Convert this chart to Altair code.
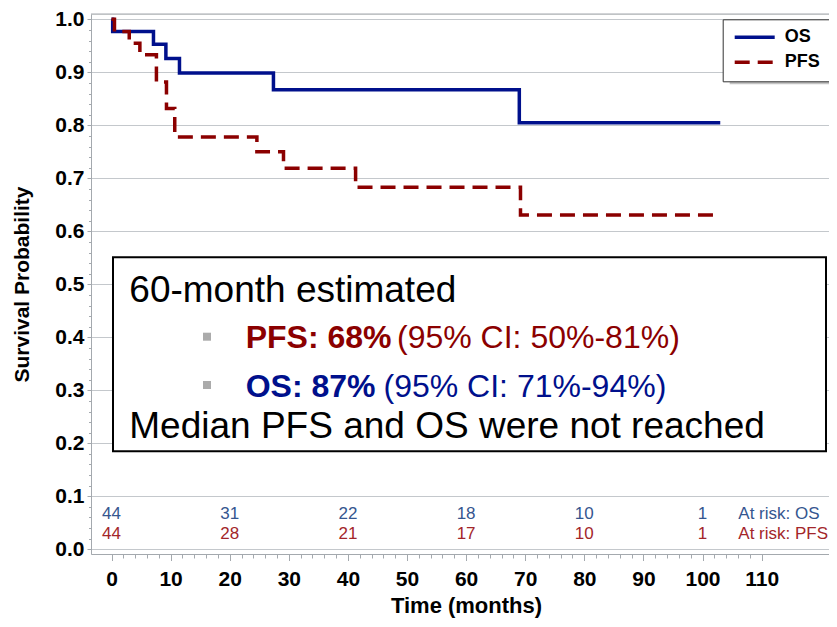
import altair as alt
import pandas as pd

# ---------------- data ----------------
os_time = [0, 0.2, 7.1, 9.2, 11.5, 27.4, 69.0, 103.0]
os_surv = [1.0, 0.977, 0.953, 0.926, 0.899, 0.867, 0.805, 0.805]
pfs_time = [0, 0.5, 3.0, 4.8, 7.6, 9.3, 10.7, 24.6, 29.1, 41.3, 69.2, 103.0]
pfs_surv = [1.0, 0.977, 0.955, 0.933, 0.882, 0.832, 0.778, 0.750, 0.719, 0.683, 0.631, 0.631]

groups = ["OS", "PFS"]
risk_times = [0, 20, 40, 60, 80, 100]
risk_os = [44, 31, 22, 18, 10, 1]
risk_pfs = [44, 28, 21, 17, 10, 1]
risk_labels = ["At risk: OS", "At risk: PFS"]

x_ticks = list(range(0, 111, 2))
y_ticks = [round(i * 0.02, 2) for i in range(0, 51)]

box_title = "60-month estimated"
pfs_bold = "PFS: 68%"
pfs_ci = "(95% CI: 50%-81%)"
os_bold = "OS: 87%"
os_ci = "(95% CI: 71%-94%)"
box_footer = "Median PFS and OS were not reached"

# ---------------- styles ----------------
FONT = "Liberation Sans"
NAVY = "#00108c"
DRED = "#8b0000"
RISK_BLUE = "#35568f"
RISK_RED = "#a3262a"
GRID = "#c4c8cc"
AXIS = "#a4a9ae"

W, H = 738, 540
MAJOR_X = "datum.value % 10 === 0"
MAJOR_Y = "abs(datum.value * 10 - round(datum.value * 10)) < 0.000001"

curve = pd.DataFrame({
    "time": os_time + pfs_time,
    "surv": os_surv + pfs_surv,
    "group": [groups[0]] * len(os_time) + [groups[1]] * len(pfs_time),
})
risk = pd.DataFrame({"time": risk_times, "os": risk_os, "pfs": risk_pfs})
one = pd.DataFrame({"k": [0]})

x_scale = alt.Scale(domain=[-3.47, 121.4], nice=False, zero=False)
y_scale = alt.Scale(domain=[-0.0089, 1.0101], nice=False, zero=False)

x_axis = alt.Axis(
    values=x_ticks,
    labelExpr=f"{MAJOR_X} ? datum.label : ''",
    grid=False,
    tickSize={"condition": {"test": MAJOR_X, "value": 6.5}, "value": 4},
    tickColor=AXIS, domainColor=AXIS,
    labelFont=FONT, labelFontSize=21, labelFontWeight="bold", labelColor="black",
    labelPadding=8, labelOverlap=False, labelFlush=False, labelBound=False,
    title="Time (months)", titleFont=FONT, titleFontSize=22, titleFontWeight="bold",
    titleColor="black", titleX=375, titleY=58, titleAlign="center", titleBaseline="alphabetic",
)
y_axis = alt.Axis(
    values=y_ticks,
    format=".1f",
    labelExpr=f"{MAJOR_Y} ? datum.label : ''",
    grid=True, gridColor=GRID, gridWidth=1,
    gridOpacity={"condition": {"test": MAJOR_Y, "value": 1}, "value": 0},
    tickSize={"condition": {"test": MAJOR_Y, "value": 4}, "value": 2.5},
    tickColor=AXIS, domainColor=AXIS,
    labelFont=FONT, labelFontSize=21, labelFontWeight="bold", labelColor="black",
    labelPadding=3, labelOverlap=False, labelFlush=False, labelBound=False,
    title="Survival Probability", titleFont=FONT, titleFontSize=21, titleFontWeight="bold",
    titleColor="black", titleAngle=270, titleX=-63, titleY=270, titleAlign="center",
    titleBaseline="alphabetic",
)

legend_kw = dict(
    title=None, orient="none", legendX=631.7, legendY=5.3,
    strokeColor="#333333", fillColor="white", padding=10,
    symbolType="stroke", symbolSize=1600, symbolStrokeWidth=3.5,
    labelFont=FONT, labelFontSize=18, labelFontWeight="bold", labelColor="black",
    labelOffset=8, clipHeight=16, rowPadding=7,
)

lines = alt.Chart(curve).mark_line(interpolate="step-after", strokeWidth=3.5).encode(
    x=alt.X("time:Q", scale=x_scale, axis=x_axis),
    y=alt.Y("surv:Q", scale=y_scale, axis=y_axis),
    color=alt.Color("group:N", scale=alt.Scale(domain=groups, range=[NAVY, DRED]),
                    legend=alt.Legend(**legend_kw)),
    strokeDash=alt.StrokeDash("group:N", scale=alt.Scale(domain=groups, range=[[1, 0], [15, 8]]),
                              legend=alt.Legend(**legend_kw)),
    order=alt.Order("time:Q"),
)

top_border = alt.Chart(one).mark_rule(color=AXIS, strokeWidth=1).encode(
    x=alt.value(0), x2=alt.value(W), y=alt.value(0)
)

# legend shadow
shadow = alt.Chart(one).mark_rect(color="#c4c4c4").encode(
    x=alt.value(638.7), x2=alt.value(744.7), y=alt.value(12.3), y2=alt.value(70.3)
)

# annotation box
box = alt.Chart(one).mark_rect(fill="white", stroke="black", strokeWidth=2).encode(
    x=alt.value(22), x2=alt.value(735), y=alt.value(243.3), y2=alt.value(437.3)
)

def txt(s, x, y, size, color="black", weight="normal"):
    return alt.Chart(one).mark_text(
        text=s, font=FONT, fontSize=size, fontWeight=weight, color=color,
        align="left", baseline="alphabetic",
    ).encode(x=alt.value(x), y=alt.value(y))

bullets = alt.Chart(one).mark_square(size=64, color="#ababab", opacity=1).encode(
    x=alt.value(116), y=alt.value(322.7)
) + alt.Chart(one).mark_square(size=64, color="#ababab", opacity=1).encode(
    x=alt.value(116), y=alt.value(371)
)

texts = (
    txt(box_title, 38.3, 287.7, 37)
    + txt(pfs_bold, 154.7, 334.3, 32, DRED, "bold")
    + txt(pfs_ci, 306, 334.3, 32, DRED)
    + txt(os_bold, 154.7, 382.7, 32, NAVY, "bold")
    + txt(os_ci, 292.5, 382.7, 32, NAVY)
    + txt(box_footer, 38.3, 424.3, 37)
)

risk_os_text = alt.Chart(risk).mark_text(
    font=FONT, fontSize=17, color=RISK_BLUE, align="center", baseline="alphabetic"
).encode(x=alt.X("time:Q", scale=x_scale, axis=x_axis), y=alt.value(505.3), text="os:Q")
risk_pfs_text = alt.Chart(risk).mark_text(
    font=FONT, fontSize=17, color=RISK_RED, align="center", baseline="alphabetic"
).encode(x=alt.X("time:Q", scale=x_scale, axis=x_axis), y=alt.value(524.7), text="pfs:Q")
risk_lab = txt(risk_labels[0], 647.3, 505.3, 17, RISK_BLUE) + txt(risk_labels[1], 647.3, 524.7, 17, RISK_RED)

chart = alt.layer(
    top_border, lines, box, bullets, texts, risk_os_text, risk_pfs_text, risk_lab, shadow
).properties(
    width=W, height=H,
    autosize=alt.AutoSizeParams(type="none"),
    padding={"left": 83, "top": 6, "right": 0, "bottom": 65},
).configure_view(stroke=None).configure(background="white")

chart.save("out.html", embed_options={"renderer": "svg", "actions": False})
